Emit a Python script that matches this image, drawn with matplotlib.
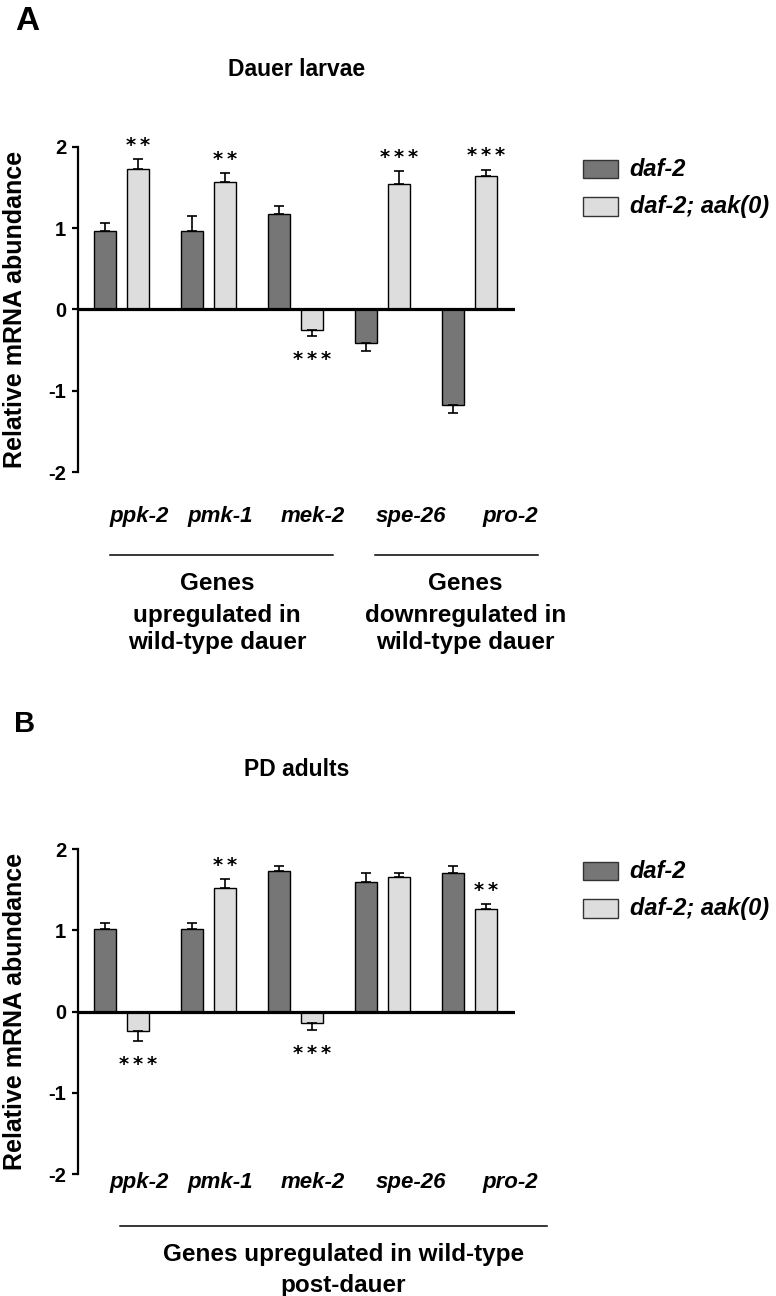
#relative mRNA abundance in dauer larvae and post-dauer adults
import numpy as np
import matplotlib.pyplot as plt
from matplotlib.patches import Rectangle

plt.rcParams['font.family'] = ['Liberation Sans', 'DejaVu Sans']
plt.rcParams['font.weight'] = 'bold'
plt.rcParams['axes.unicode_minus'] = False

genes = ['ppk-2', 'pmk-1', 'mek-2', 'spe-26', 'pro-2']
series_names = ['daf-2', 'daf-2; aak(0)']

# panel A, dauer larvae
dauer_daf2 = [0.96, 0.97, 1.18, -0.41, -1.17]
dauer_daf2_err = [0.10, 0.18, 0.09, 0.10, 0.11]
dauer_aak = [1.73, 1.57, -0.25, 1.55, 1.64]
dauer_aak_err = [0.12, 0.11, 0.08, 0.15, 0.08]
dauer_sig = ['**', '**', '***', '***', '***']

# panel B, PD adults
pd_daf2 = [1.02, 1.02, 1.73, 1.59, 1.70]
pd_daf2_err = [0.07, 0.07, 0.06, 0.11, 0.09]
pd_aak = [-0.24, 1.52, -0.14, 1.655, 1.26]
pd_aak_err = [0.12, 0.11, 0.09, 0.05, 0.06]
pd_sig = ['***', '**', '***', '', '**']

dark = '#767676'
light = '#dddddd'
label_x = [0.2, 1.14, 2.2, 3.33, 4.47]


def one_sided(vals, errs):
    lo = [e if v < 0 else 0 for v, e in zip(vals, errs)]
    hi = [e if v >= 0 else 0 for v, e in zip(vals, errs)]
    return [lo, hi]


def panel(ax, d, de, a, ae, sig, title, title_y, gene_y):
    x = np.arange(len(genes))
    ekw = dict(ecolor='black', elinewidth=1.2, capsize=3.6, capthick=1.2)
    ax.bar(x - 0.19, d, 0.25, color=dark, edgecolor='black', lw=1.0,
           yerr=one_sided(d, de), error_kw=ekw, zorder=2)
    ax.bar(x + 0.19, a, 0.25, color=light, edgecolor='black', lw=1.0,
           yerr=one_sided(a, ae), error_kw=ekw, zorder=2)
    ax.axhline(0, color='black', lw=2.3, zorder=3)
    for xi, v, e, s in zip(x, a, ae, sig):
        if not s:
            continue
        if v >= 0:
            y = v + e + 0.17
        else:
            y = v - e - 0.29
        ax.text(xi + 0.19, y, '\u2009'.join(s), ha='center', va='center', fontsize=14,
                family='DejaVu Sans', fontweight='bold')

    ax.set_xlim(-0.5, 4.52)
    ax.set_ylim(-2, 2)
    ax.set_yticks([-2, -1, 0, 1, 2])
    ax.set_xticks([])
    for s in ['top', 'right', 'bottom']:
        ax.spines[s].set_visible(False)
    ax.spines['left'].set_linewidth(1.6)
    ax.tick_params(axis='y', width=1.6, length=4.5, labelsize=14.5, pad=4)
    ax.set_ylabel('Relative mRNA abundance', fontsize=18, fontweight='bold')
    ax.yaxis.set_label_coords(-0.117, 0.5)
    ax.text(0.5, title_y, title, transform=ax.transAxes, ha='center', va='center',
            fontsize=16.5)

    tr = ax.get_xaxis_transform()
    for lx, g in zip(label_x, genes):
        ax.text(lx, gene_y, g, transform=tr, ha='center', va='center',
                fontsize=16, style='italic', clip_on=False)

    # legend
    for i, (name, c) in enumerate(zip(series_names, [dark, light])):
        yy = 0.932 - i * 0.115
        ax.add_patch(Rectangle((1.156, yy - 0.028), 0.08, 0.056, transform=ax.transAxes,
                               facecolor=c, edgecolor='#333333', lw=1.0, clip_on=False))
        ax.text(1.263, yy, name, transform=ax.transAxes, ha='left', va='center',
                fontsize=17, style='italic')
    return tr


def text_lines(ax, tr, xc, ys, lines):
    for yy, line in zip(ys, lines):
        ax.text(xc, yy, line, transform=tr, ha='center', va='center',
                fontsize=17.5, clip_on=False)


fig = plt.figure(figsize=(7.76, 12.96), dpi=100)
axA = fig.add_axes([0.1005, 0.6358, 0.563, 0.2508])
axB = fig.add_axes([0.1005, 0.0941, 0.563, 0.2508])

trA = panel(axA, dauer_daf2, dauer_daf2_err, dauer_aak, dauer_aak_err, dauer_sig,
            'Dauer larvae', 1.237, -0.138)
axA.plot([-0.13, 2.43], [-0.255, -0.255], transform=trA, color='black', lw=1.1, clip_on=False)
axA.plot([2.91, 4.78], [-0.255, -0.255], transform=trA, color='black', lw=1.1, clip_on=False)
text_lines(axA, trA, 1.10, [-0.3415, -0.44, -0.526],
           ['Genes', 'upregulated in', 'wild-type dauer'])
text_lines(axA, trA, 3.95, [-0.3415, -0.44, -0.526],
           ['Genes', 'downregulated in', 'wild-type dauer'])

trB = panel(axB, pd_daf2, pd_daf2_err, pd_aak, pd_aak_err, pd_sig,
            'PD adults', 1.246, -0.025)
axB.plot([-0.02, 4.89], [-0.16, -0.16], transform=trB, color='black', lw=1.1, clip_on=False)
text_lines(axB, trB, 2.55, [-0.249, -0.342],
           ['Genes upregulated in wild-type', 'post-dauer'])

fig.text(27 / 776, 1 - 22 / 1296, 'A', ha='center', va='center', fontsize=24)
fig.text(25 / 776, 1 - 724 / 1296, 'B', ha='center', va='center', fontsize=21)

fig.savefig('out.png', dpi=100)
